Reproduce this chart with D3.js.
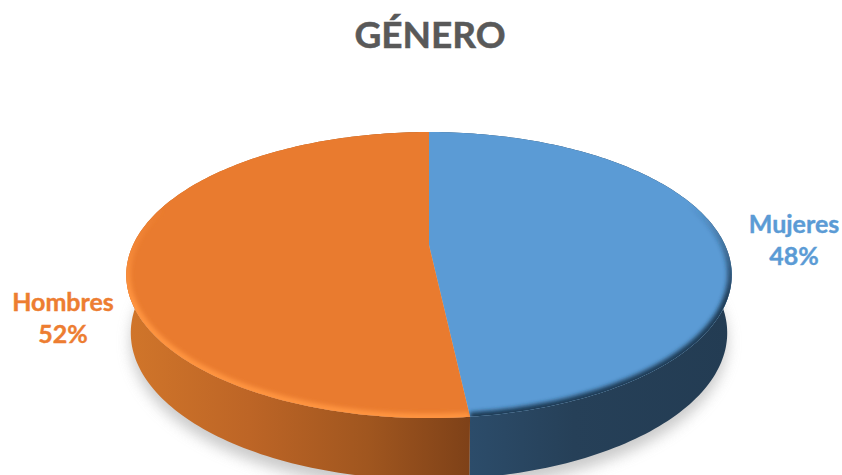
<!DOCTYPE html>
<html>
<head>
<meta charset="utf-8">
<script src="https://cdnjs.cloudflare.com/ajax/libs/d3/7.8.5/d3.min.js"></script>
<style>
  html, body { margin: 0; padding: 0; background: #fff; overflow: hidden; }
  text { font-family: Lato, "Open Sans", sans-serif; font-weight: 700; }
</style>
</head>
<body>
<div id="chart"></div>
<script>
// Data
var categories = ['Mujeres', 'Hombres']
var shares = [48.25, 51.75]
var titleText = 'GÉNERO'

var width = 842
var height = 475

var colorScale = d3.scaleOrdinal().domain(categories).range(['#5b9bd5', '#e97b2f'])
var rimScale = d3.scaleOrdinal().domain(categories).range(['#1f3a54', '#ff9440'])
var labelColor = d3.scaleOrdinal().domain(categories).range(['#5b9bd5', '#ed7d31'])

var svg = d3
  .select('#chart')
  .append('svg')
  .attr('width', width)
  .attr('height', height)

var defs = svg.append('defs')

defs.append('filter').attr('id', 'blur-shadow')
  .attr('x', '-10%').attr('y', '-10%').attr('width', '120%').attr('height', '130%')
  .append('feGaussianBlur').attr('stdDeviation', 7)

defs.append('filter').attr('id', 'blur-rim')
  .attr('x', '-10%').attr('y', '-10%').attr('width', '120%').attr('height', '120%')
  .append('feGaussianBlur').attr('stdDeviation', 2.2)

// side wall gradients, light on the left and dark at the front
var sideStops = {
  Hombres: [['0%', '#d0752a'], ['35%', '#bd6526'], ['70%', '#a0561f'], ['100%', '#7e4118']],
  Mujeres: [['0%', '#2c4c6a'], ['40%', '#264058'], ['100%', '#233c53']]
}
var sideRange = { Hombres: [130, 470], Mujeres: [470, 730] }

categories.forEach(function(c) {
  var g = defs.append('linearGradient')
    .attr('id', 'side-' + c)
    .attr('gradientUnits', 'userSpaceOnUse')
    .attr('x1', sideRange[c][0]).attr('x2', sideRange[c][1])
    .attr('y1', 0).attr('y2', 0)
  sideStops[c].forEach(function(s) {
    g.append('stop').attr('offset', s[0]).attr('stop-color', s[1])
  })
  // the bevel fades out as it climbs the sides of the pie
  var r = defs.append('linearGradient')
    .attr('id', 'rim-' + c)
    .attr('gradientUnits', 'userSpaceOnUse')
    .attr('x1', 0).attr('x2', 0)
    .attr('y1', 205).attr('y2', 300)
  r.append('stop').attr('offset', '0%').attr('stop-color', rimScale(c)).attr('stop-opacity', 0)
  r.append('stop').attr('offset', '100%').attr('stop-color', rimScale(c)).attr('stop-opacity', 1)
})

// tilted circle with perspective: far edge is flatter than the near edge
var centerX = 429
var centerY = 245
var radius = 296
var tilt = 136.7
var perspective = 0.21
var depth = 57

function project(angle, shrink, drop) {
  var u = Math.sin(angle)
  var v = Math.cos(angle)
  var w = 1 + perspective * v
  return [
    centerX + (radius * shrink * u) / w,
    centerY + drop / Math.sqrt(w) - (tilt * shrink * v) / w
  ]
}

function ring(start, end, shrink, drop) {
  var n = Math.max(2, Math.ceil(Math.abs(end - start) / 0.02))
  return d3.range(n + 1).map(function(i) {
    return project(start + ((end - start) * i) / n, shrink, drop)
  })
}

var line = d3.line()

var pie = d3.pie().sort(null).value(function(d) { return d.value })
var slices = pie(categories.map(function(c, i) {
  return { key: c, value: shares[i] }
}))

// Shadow under the pie
svg.append('path')
  .attr('d', line(ring(0, Math.PI * 2, 0.985, depth + 9)) + 'Z')
  .attr('fill', '#b4b4b4')
  .attr('opacity', 0.7)
  .attr('filter', 'url(#blur-shadow)')

// Side walls
svg.selectAll('.side')
  .data(slices)
  .enter()
  .append('path')
  .attr('class', 'side')
  .attr('d', function(d) {
    var top = ring(d.startAngle, d.endAngle, 1, 0)
    var bottom = ring(d.endAngle, d.startAngle, 0.985, depth)
    return line(top.concat(bottom)) + 'Z'
  })
  .attr('fill', function(d) { return 'url(#side-' + d.data.key + ')' })

// Top faces
function facePath(d) {
  return line([[centerX, centerY]].concat(ring(d.startAngle, d.endAngle, 1, 0))) + 'Z'
}

slices.forEach(function(d) {
  defs.append('clipPath')
    .attr('id', 'clip-' + d.data.key)
    .append('path')
    .attr('d', facePath(d))
})

svg.selectAll('.face')
  .data(slices)
  .enter()
  .append('path')
  .attr('class', 'face')
  .attr('d', facePath)
  .attr('fill', function(d) { return colorScale(d.data.key) })

// Bevel along the near edge of each face
svg.selectAll('.rim')
  .data(slices)
  .enter()
  .append('g')
  .attr('clip-path', function(d) { return 'url(#clip-' + d.data.key + ')' })
  .append('path')
  .attr('class', 'rim')
  .attr('d', function(d) {
    var from = d.data.key === 'Mujeres' ? 1.1 : d.startAngle
    var to = d.data.key === 'Mujeres' ? d.endAngle : 5.0
    return line(ring(from, to, 1, 0))
  })
  .attr('fill', 'none')
  .attr('stroke', function(d) { return 'url(#rim-' + d.data.key + ')' })
  .attr('stroke-width', 9)
  .attr('filter', 'url(#blur-rim)')

// Title
svg.append('text')
  .text(titleText)
  .attr('x', 430)
  .attr('y', 48)
  .attr('text-anchor', 'middle')
  .attr('font-size', 37)
  .attr('fill', '#595959')
  .attr('stroke', '#595959')
  .attr('stroke-width', 0.5)

// Labels
var labelPos = { Mujeres: [794, 233], Hombres: [63, 311] }

categories.forEach(function(c, i) {
  var label = svg.append('text')
    .attr('text-anchor', 'middle')
    .attr('font-size', 25)
    .attr('fill', labelColor(c))
    .attr('stroke', labelColor(c))
    .attr('stroke-width', 0.4)
  label.append('tspan')
    .attr('x', labelPos[c][0])
    .attr('y', labelPos[c][1])
    .text(c)
  label.append('tspan')
    .attr('x', labelPos[c][0])
    .attr('y', labelPos[c][1] + 32)
    .text(Math.round(shares[i]) + '%')
})
</script>
</body>
</html>
